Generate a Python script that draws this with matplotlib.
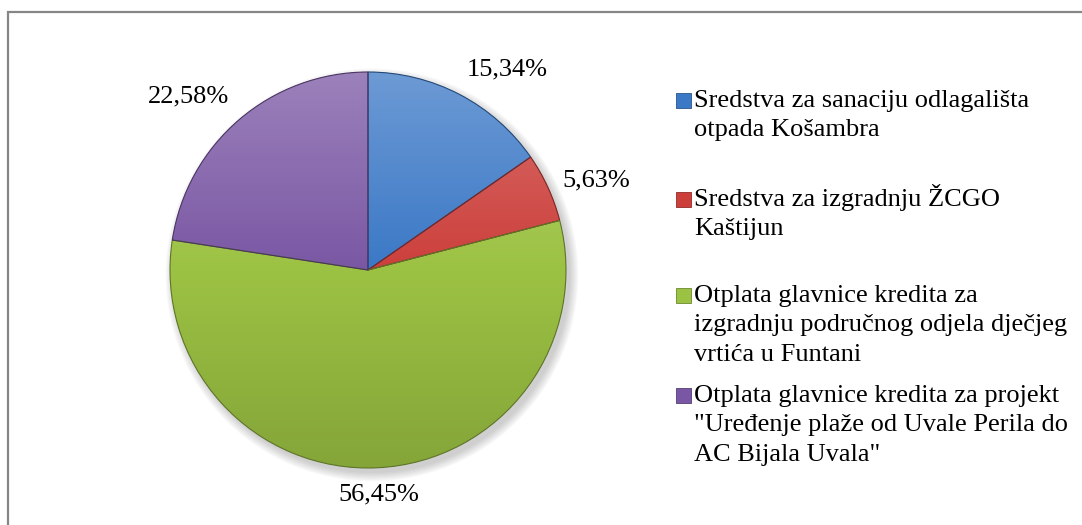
import numpy as np
import matplotlib.pyplot as plt
from matplotlib.colors import LinearSegmentedColormap, to_rgb
from matplotlib.patches import Rectangle, Circle

plt.rcParams['font.family'] = ['Liberation Serif', 'DejaVu Serif']

# data
labels = [
    "Sredstva za sanaciju odlagališta\notpada Košambra",
    "Sredstva za izgradnju ŽCGO\nKaštijun",
    "Otplata glavnice kredita za\nizgradnju područnog odjela dječjeg\nvrtića u Funtani",
    "Otplata glavnice kredita za projekt\n\"Uređenje plaže od Uvale Perila do\nAC Bijala Uvala\"",
]
values = [15.34, 5.63, 56.45, 22.58]
pct_text = ["15,34%", "5,63%", "56,45%", "22,58%"]
colors = ["#3b78c6", "#cc3f3b", "#9cc243", "#7a57a4"]


def shade(c, f):
    r = np.array(to_rgb(c))
    if f > 0:
        return tuple(r + (1 - r) * f)
    return tuple(r * (1 + f))


W, H = 1082, 525
fig = plt.figure(figsize=(W / 100, H / 100), dpi=100)

# outer frame (cut off at right and bottom)
fig.patches.append(Rectangle((8 / W, -0.1), 1.2, 1 - 12 / H + 0.1,
                             transform=fig.transFigure, fill=False,
                             edgecolor="#868686", linewidth=1.6))

cx, cy, half = 368, 270, 200
ax = fig.add_axes([(cx - half) / W, (H - cy - half) / H,
                   2 * half / W, 2 * half / H])

# soft shadow
for i in range(8):
    ax.add_patch(Circle((0.02, -0.025), 1.0 + 0.006 * i, color="0.3",
                        alpha=0.035, zorder=0, linewidth=0, clip_on=False))

wedges, _ = ax.pie(values, colors=colors, startangle=90, counterclock=False,
                   radius=1.0, wedgeprops=dict(linewidth=0.8, zorder=2))
lim = half / 198

yy = np.linspace(1, -1, 200)[:, None] * np.ones((1, 200))
for w, c in zip(wedges, colors):
    cmap = LinearSegmentedColormap.from_list("g", [shade(c, 0.25), c, shade(c, -0.15)])
    im = ax.imshow(-yy, cmap=cmap, extent=[-1, 1, -1, 1], zorder=2.5,
                   interpolation="bilinear")
    im.set_clip_path(w)
    w.set_edgecolor(shade(c, -0.4))
    w.set_zorder(3)
    w.set_facecolor("none")
    w.set_clip_on(False)
ax.set_xlim(-lim, lim)
ax.set_ylim(-lim, lim)
ax.set_aspect("equal")
ax.axis("off")

# percentage labels placed outside along slice mid-angle
for w, t in zip(wedges, pct_text):
    ang = np.deg2rad((w.theta1 + w.theta2) / 2)
    ca, sa = np.cos(ang), np.sin(ang)
    ha = "left" if ca > 0.3 else ("right" if ca < -0.3 else "center")
    va = "bottom" if sa > 0.5 else ("top" if sa < -0.5 else "center")
    ax.text(1.08 * ca, 1.08 * sa, t, ha=ha, va=va, fontsize=19, color="black")

# legend (drawn by hand, baseline of first line of each entry)
leg_base = [107, 206, 302, 402]
line_h = 29.3
for lab, c, y in zip(labels, colors, leg_base):
    fig.patches.append(Rectangle((676 / W, 1 - (y + 1) / H), 15 / W, 15 / H,
                                 transform=fig.transFigure, facecolor=c,
                                 edgecolor=shade(c, -0.3), linewidth=0.6))
    for k, line in enumerate(lab.split("\n")):
        fig.text(694 / W, 1 - (y + k * line_h) / H, line, ha="left",
                 va="baseline", fontsize=19)

fig.savefig("out.png", dpi=100, facecolor="white")
